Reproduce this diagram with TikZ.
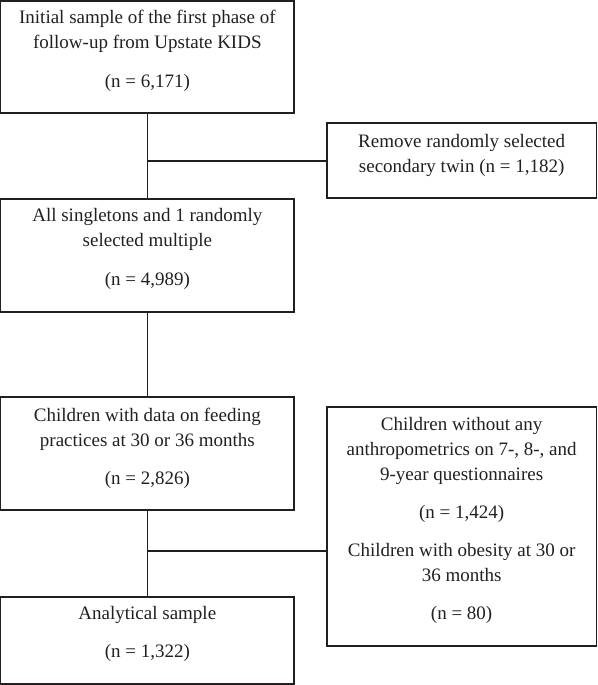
\documentclass[tikz,border=0pt]{standalone}
\usepackage{fontspec}
\setmainfont{Liberation Serif}
\definecolor{ink}{HTML}{231F20}
\newcommand\bt[4]{\begin{minipage}[c][#2][t]{#1}\centering\fontsize{19}{25}\selectfont\rule{0pt}{#3}#4\end{minipage}}
\begin{document}
\begin{tikzpicture}[x=1pt,y=-1pt,
  box/.style={draw=ink,line width=1.1pt,inner sep=0pt,outer sep=0pt,text=ink},
  conn/.style={draw=ink,line width=1.1pt}]
\useasboundingbox (0,0) rectangle (597,685);
\node[box] (b1) at (147.35,57) {\bt{293.3pt}{112pt}{22.5pt}{Initial sample of the first phase of\\follow-up from Upstate KIDS\\[14pt](n = 6,171)}};
\node[box] (b2) at (461.65,160.5) {\bt{269.3pt}{75pt}{24.5pt}{Remove randomly selected\\secondary twin (n = 1,182)}};
\node[box] (b3) at (147.35,255.5) {\bt{293.3pt}{113pt}{22.5pt}{All singletons and 1 randomly\\selected multiple\\[14pt](n = 4,989)}};
\node[box] (b4) at (147.35,453.5) {\bt{293.3pt}{113pt}{24.5pt}{Children with data on feeding\\practices at 30 or 36 months\\[13pt](n = 2,826)}};
\node[box] (b5) at (147.35,640.5) {\bt{293.3pt}{87pt}{22.5pt}{Analytical sample\\[13pt](n = 1,322)}};
\node[box] (b6) at (461.65,526.5) {\bt{269.3pt}{239pt}{23.5pt}{Children without any\\anthropometrics on 7-, 8-, and\\9-year questionnaires\\[13pt](n = 1,424)\\[13pt]Children with obesity at 30 or\\36 months\\[13pt](n = 80)}};
\coordinate (j1) at (147.35,161);
\coordinate (j2) at (147.35,551);
\draw[conn] (b1.south) -- (b3.north);
\draw[conn] (j1) -- (j1 -| b2.west);
\draw[conn] (b3.south) -- (b4.north);
\draw[conn] (b4.south) -- (b5.north);
\draw[conn] (j2) -- (j2 -| b6.west);
\end{tikzpicture}
\end{document}
